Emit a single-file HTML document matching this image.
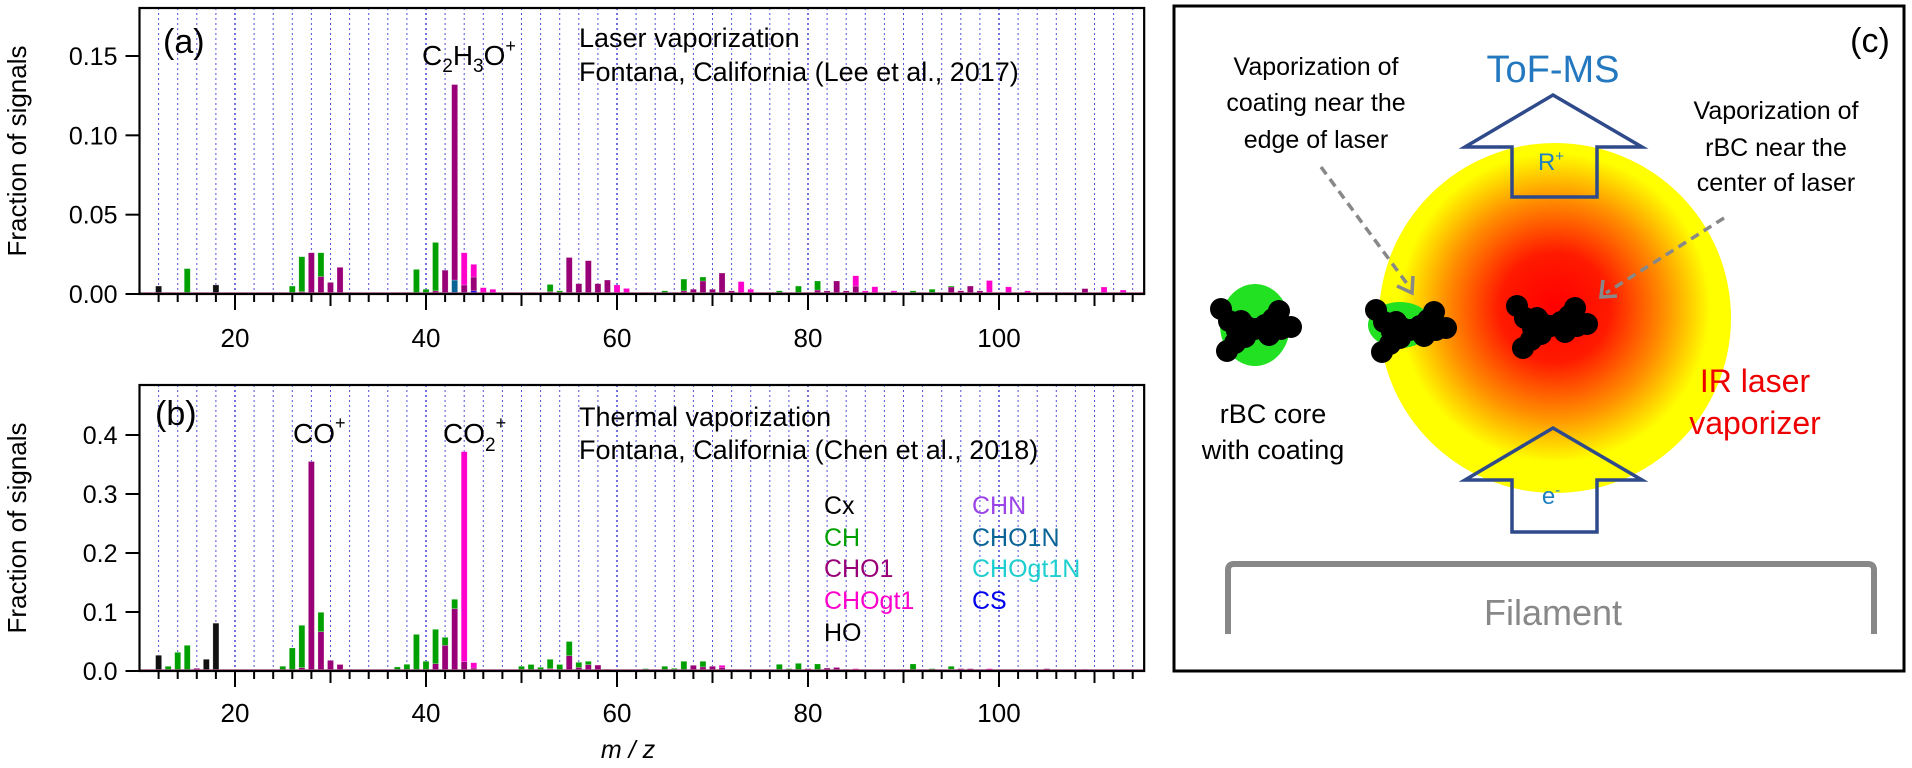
<!DOCTYPE html>
<html><head><meta charset="utf-8"><style>
html,body{margin:0;padding:0;background:#fff;}
svg{display:block;font-family:"Liberation Sans",Arial,sans-serif;}
</style></head><body>
<svg id="fig" width="1912" height="768" viewBox="0 0 1912 768">
  <defs>
    <radialGradient id="laserGrad" cx="0.5" cy="0.47" r="0.52">
      <stop offset="0" stop-color="#ff0000"/>
      <stop offset="0.3" stop-color="#ff1a00"/>
      <stop offset="0.6" stop-color="#ff9000"/>
      <stop offset="0.85" stop-color="#ffff00"/>
      <stop offset="1" stop-color="#ffff00"/>
    </radialGradient>
  </defs>
  <g id="chartA"></g>
  <g id="chartB"></g>

  <text x="163" y="53" font-size="34">(a)</text>
  <text x="422" y="65" font-size="28">C<tspan font-size="19" dy="7">2</tspan><tspan dy="-7">H</tspan><tspan font-size="19" dy="7">3</tspan><tspan dy="-7">O</tspan><tspan font-size="18" dy="-13">+</tspan></text>
  <text x="579" y="47" font-size="27">Laser vaporization</text>
  <text x="579" y="81" font-size="27">Fontana, California (Lee et al., 2017)</text>

  <text x="155" y="425" font-size="34">(b)</text>
  <text x="293" y="443" font-size="28">CO<tspan font-size="18" dy="-14">+</tspan></text>
  <text x="443" y="443" font-size="28">CO<tspan font-size="19" dy="8">2</tspan><tspan font-size="18" dy="-22">+</tspan></text>
  <text x="579" y="426" font-size="27">Thermal vaporization</text>
  <text x="579" y="459" font-size="27">Fontana, California (Chen et al., 2018)</text>

  <g font-size="25">
    <text x="824" y="514" fill="#000">Cx</text>
    <text x="824" y="546" fill="#00a000">CH</text>
    <text x="824" y="577" fill="#990077">CHO1</text>
    <text x="824" y="609" fill="#ff00cc">CHOgt1</text>
    <text x="824" y="641" fill="#000">HO</text>
    <text x="972" y="514" fill="#9b45e8">CHN</text>
    <text x="972" y="546" fill="#0b6496">CHO1N</text>
    <text x="972" y="577" fill="#1fcfcf">CHOgt1N</text>
    <text x="972" y="609" fill="#0000ee">CS</text>
  </g>

  <text transform="translate(26,151) rotate(-90)" text-anchor="middle" font-size="26">Fraction of signals</text>
  <text transform="translate(26,528) rotate(-90)" text-anchor="middle" font-size="26">Fraction of signals</text>
  <text x="628" y="758" text-anchor="middle" font-size="25" font-style="italic">m / z</text>

  <g>
    <rect x="1174" y="6" width="730" height="665" fill="none" stroke="#000" stroke-width="3"/>
    <text x="1870" y="52" text-anchor="middle" font-size="34">(c)</text>
    <ellipse cx="1555" cy="318" rx="176" ry="175" fill="url(#laserGrad)"/>
    <text x="1553" y="82" text-anchor="middle" font-size="38" fill="#2378c0">ToF-MS</text>
    <path d="M1553,95 L1642,147 L1597,147 L1597,197 L1512,197 L1512,147 L1465,147 Z" fill="none" stroke="#2e4a8a" stroke-width="3.5"/>
    <text x="1551" y="170" text-anchor="middle" font-size="24" fill="#1f7fc0">R<tspan font-size="15" dy="-9">+</tspan></text>
    <path d="M1553,428 L1642,480 L1597,480 L1597,532 L1512,532 L1512,480 L1465,480 Z" fill="none" stroke="#2e4a8a" stroke-width="3.5"/>
    <text x="1551" y="504" text-anchor="middle" font-size="24" fill="#1f7fc0">e<tspan font-size="15" dy="-9">-</tspan></text>
    <path d="M1228,634 L1228,570 Q1228,564 1234,564 L1868,564 Q1874,564 1874,570 L1874,634" fill="none" stroke="#888" stroke-width="6"/>
    <text x="1553" y="625" text-anchor="middle" font-size="36" fill="#888">Filament</text>
    <g font-size="25" text-anchor="middle">
      <text x="1316" y="75">Vaporization of</text>
      <text x="1316" y="111">coating near the</text>
      <text x="1316" y="148">edge of laser</text>
    </g>
    <g font-size="25" text-anchor="middle">
      <text x="1776" y="119">Vaporization of</text>
      <text x="1776" y="156">rBC near the</text>
      <text x="1776" y="191">center of laser</text>
    </g>
    <g stroke="#888" stroke-width="3.5" fill="none">
      <line x1="1321" y1="167" x2="1408" y2="285" stroke-dasharray="9,6"/>
      <polyline points="1397,286 1412,293 1413,276"/>
      <line x1="1724" y1="218" x2="1606" y2="293" stroke-dasharray="9,6"/>
      <polyline points="1603,280 1601,297 1617,296"/>
    </g>
    <ellipse cx="1255" cy="325" rx="35" ry="41" fill="#22e022"/>
    <ellipse cx="1400" cy="325" rx="32" ry="23" fill="#22e022"/>
    <g id="aggs" fill="#000"></g>
    <g font-size="27" text-anchor="middle">
      <text x="1273" y="423">rBC core</text>
      <text x="1273" y="459">with coating</text>
    </g>
    <g font-size="32" text-anchor="middle" fill="#ee0000">
      <text x="1755" y="392">IR laser</text>
      <text x="1755" y="434">vaporizer</text>
    </g>
  </g>
</svg>
<script>
const aMz     = [12,13,15,17,18,24,26,27,28,29,30,31,32,37,38,39,40,41,42,43,44,45,46,47,49,51,53,54,55,56,57,58,59,60,61,63,65,66,67,68,69,70,71,72,73,74,75,76,77,79,80,81,82,83,84,85,86,87,89,91,93,95,96,97,98,99,100,101,103,105,107,109,111,112,113,115];
const aCx     = [.005,0,0,0,.0057,0,0,0,0,0,0,0,0,0,0,0,0,0,0,0,0,0,0,0,0,0,0,0,0,0,0,0,0,0,0,0,0,0,0,0,0,0,0,0,0,0,0,0,0,0,0,0,0,0,0,0,0,0,0,0,0,0,0,0,0,0,0,0,0,0,0,0,0,0,0,0];
const aCH     = [0,.001,.016,.0005,0,0,.005,.022,0,.015,0,0,0,0,0,.0155,.003,.0305,0,0,0,0,0,0,0,.001,.0045,.002,0,0,0,0,0,0,0,0,.002,.001,.0074,0,.0025,0,0,0,0,0,0,0,.002,.005,0,.0057,0,0,0,0,0,0,0,.002,.003,.0005,0,0,0,0,0,0,0,0,.001,0,0,0,0,0];
const aCHO1   = [0,0,0,0,0,.001,0,.0015,.026,.011,.0073,.0168,.001,.001,.001,0,0,.002,.015,.1232,.0057,.0087,0,0,.001,0,.0015,0,.023,.0065,.021,.0065,.0088,0,0,.001,0,0,.002,.003,.0082,.003,.0132,.002,0,0,0,.001,0,0,.001,.0025,.002,.0082,.002,.005,0,0,0,0,0,.0045,.002,.005,.002,0,0,0,0,.001,0,.0034,0,.001,0,.001];
const aCHOgt1 = [0,0,0,0,0,0,0,0,0,0,0,0,0,0,0,0,0,0,0,0,.0203,.008,.004,.003,0,0,0,0,0,0,0,0,0,.0057,.0035,0,0,0,0,0,0,0,0,0,.0078,.003,.001,0,0,0,0,0,0,0,0,.0065,.002,.0046,.002,0,0,0,0,0,0,.0075,.001,.0045,.002,0,0,0,.0044,0,.0025,0];
const aCHO1N  = [0,0,0,0,0,0,0,0,0,0,0,0,0,0,0,0,0,0,0,.0088,0,0,0,0,0,0,0,0,0,0,0,0,0,0,0,0,0,0,0,0,0,0,0,0,0,0,0,0,0,0,0,0,0,0,0,0,0,0,0,0,0,0,0,0,0,0,0,0,0,0,0,0,0,0,0,0];
const aCS     = [0,0,0,0,0,0,0,0,0,0,0,0,0,0,0,0,0,0,0,0,0,.002,0,0,0,0,0,0,0,0,0,0,0,0,0,0,0,0,0,0,0,0,0,0,0,0,0,0,0,0,0,0,0,0,0,0,0,0,0,0,0,0,0,0,0,.001,0,0,0,0,0,0,0,0,0,0];
const aYTicks = [0, 0.05, 0.10, 0.15];
const aYLabels = ["0.00","0.05","0.10","0.15"];

const bMz     = [12,13,14,15,16,17,18,25,26,27,28,29,30,31,32,37,38,39,40,41,42,43,44,45,50,51,52,53,54,55,56,57,58,59,60,63,64,65,66,67,68,69,70,71,72,73,77,78,79,80,81,82,83,84,85,87,91,93,94,95,96,97,98,99,101,105,107,109,111,113];
const bCx     = [.0266,0,0,0,0,.0198,.081,0,0,0,0,0,0,0,0,0,0,0,0,0,0,0,0,0,0,0,0,0,0,0,0,0,0,0,0,0,0,0,0,0,0,0,0,0,0,0,0,0,0,0,0,0,0,0,0,0,0,0,0,0,0,0,0,0,0,0,0,0,0,0];
const bCH     = [0,.008,.0316,.0435,0,0,0,.008,.039,.0718,0,.0327,0,0,0,.0068,.0113,.062,.0164,.0582,.0135,.0159,0,0,.008,.011,.0062,.0158,.011,.024,.0087,.0057,0,0,0,.004,0,.008,.0045,.0164,0,.0094,0,0,0,0,.0113,.004,.013,0,.0119,0,0,0,0,0,.0119,.004,0,.005,0,0,0,0,0,0,0,0,0,0];
const bCHO1   = [0,0,0,0,.0045,0,0,0,0,.0056,.355,.0667,.018,.011,.003,0,0,0,0,.0124,.0435,.1056,.0158,.005,0,0,0,0,0,.026,.006,.0107,.01,.003,0,0,.002,0,0,0,.0096,.007,.008,.006,0,0,0,0,0,.004,0,.005,.006,.003,0,0,0,0,.002,.003,.004,.004,0,0,.002,.004,.002,0,.001,.001];
const bCHOgt1 = [0,0,0,0,0,0,0,0,0,0,0,0,0,0,0,0,0,0,0,0,0,0,.356,.009,0,0,0,.004,0,0,0,0,0,0,.002,0,0,0,0,0,0,0,0,.0036,.002,.002,0,0,0,0,0,0,0,0,.004,.002,0,0,0,0,0,0,.002,.004,0,0,0,.003,0,0];
const bYTicks = [0, 0.1, 0.2, 0.3, 0.4];
const bYLabels = ["0.0","0.1","0.2","0.3","0.4"];

const xTicks = [20, 40, 60, 80, 100];

const NS = "http://www.w3.org/2000/svg";
const COLORS = {Cx:"#111111", CH:"#00a000", CHO1:"#990077", CHOgt1:"#ff00cc", CHO1N:"#0b6496", CS:"#0000ee"};
const X0 = 139.5, XMIN = 10, XMAX = 115.2, PXU = 9.55;
function xScale(mz){ return X0 + (mz - XMIN) * PXU; }
function mk(tag, attrs, parent){
  const el = document.createElementNS(NS, tag);
  for (const k in attrs) el.setAttribute(k, attrs[k]);
  parent.appendChild(el);
  return el;
}

function drawPanel(g, top, zeroY, yMax, mzArr, series, yTicks, yLabels, xLabelY, tag){
  const yScale = v => zeroY - v / yMax * (zeroY - top);
  const right = xScale(XMAX);
  for (let m = 12; m <= 114; m += 2){
    const gl = mk("line", {x1:xScale(m), x2:xScale(m), y1:top, y2:zeroY, stroke:"#5050dd", "stroke-width": (m % 20 === 0 ? 1.6 : 1), "stroke-dasharray":"2,3"}, g);
    
    
  }
  for (let i = 0; i < mzArr.length; i++){
    let acc = 0;
    for (const s of series){
      const v = s.vals[i];
      if (!v) continue;
      const y1 = yScale(acc), y2 = yScale(acc + v);
      const r = mk("rect", {x:xScale(mzArr[i]) - 3, y:y2, width:6, height:Math.max(1, y1 - y2), fill:COLORS[s.key], stroke:"rgba(255,255,255,0.35)", "stroke-width":0.6}, g);
      
      
      acc += v;
    }
  }
  const bl = mk("line", {x1:X0, x2:right, y1:zeroY - 1, y2:zeroY - 1, stroke:"#b06090", "stroke-width":1.5}, g);
  
  
  const fr = mk("rect", {x:X0, y:top, width:right - X0, height:zeroY - top, fill:"none", stroke:"#000", "stroke-width":2.2}, g);
  
  
  for (let m = 12; m <= 114; m += 2){
    const len = (m % 20 === 0) ? 16 : (m % 10 === 0 ? 12 : 8);
    const t = mk("line", {x1:xScale(m), x2:xScale(m), y1:zeroY, y2:zeroY + len, stroke:"#000", "stroke-width":2}, g);
    
    
  }
  for (const m of xTicks){
    const tl = mk("text", {x:xScale(m), y:xLabelY, "text-anchor":"middle", "font-size":26}, g);
    tl.textContent = String(m);
    
    
  }
  for (let k = 0; k < yTicks.length; k++){
    const y = yScale(yTicks[k]);
    const t = mk("line", {x1:X0 - 14, x2:X0, y1:y, y2:y, stroke:"#000", "stroke-width":2}, g);
    
    
    const tl = mk("text", {x:X0 - 22, y:y + 9, "text-anchor":"end", "font-size":25}, g);
    tl.textContent = yLabels[k];
    
    
  }
}

drawPanel(document.getElementById("chartA"), 8, 294, 0.15 * (294 - 8) / (294 - 56), aMz,
  [{key:"CHO1N", vals:aCHO1N},{key:"CS", vals:aCS},{key:"Cx", vals:aCx},{key:"CHO1", vals:aCHO1},{key:"CHOgt1", vals:aCHOgt1},{key:"CH", vals:aCH}],
  aYTicks, aYLabels, 347, "a");
drawPanel(document.getElementById("chartB"), 385, 671, 0.4 * (671 - 385) / (671 - 435), bMz,
  [{key:"Cx", vals:bCx},{key:"CHO1", vals:bCHO1},{key:"CHOgt1", vals:bCHOgt1},{key:"CH", vals:bCH}],
  bYTicks, bYLabels, 722, "b");

const aggCenters = [[1257,325],[1412,326],[1553,322]];
const aggShape = [[-36,-16],[-28,-4],[-20,6],[-10,2],[-22,18],[-30,26],[-2,4],[8,0],[16,-6],[22,-14],[24,4],[34,2],[-12,12],[12,10],[-16,-4]];
const aggG = document.getElementById("aggs");
for (const c of aggCenters){
  for (const p of aggShape){
    const ci = mk("circle", {cx:c[0] + p[0], cy:c[1] + p[1], r:11}, aggG);
    
    
  }
}
</script>
</body></html>
